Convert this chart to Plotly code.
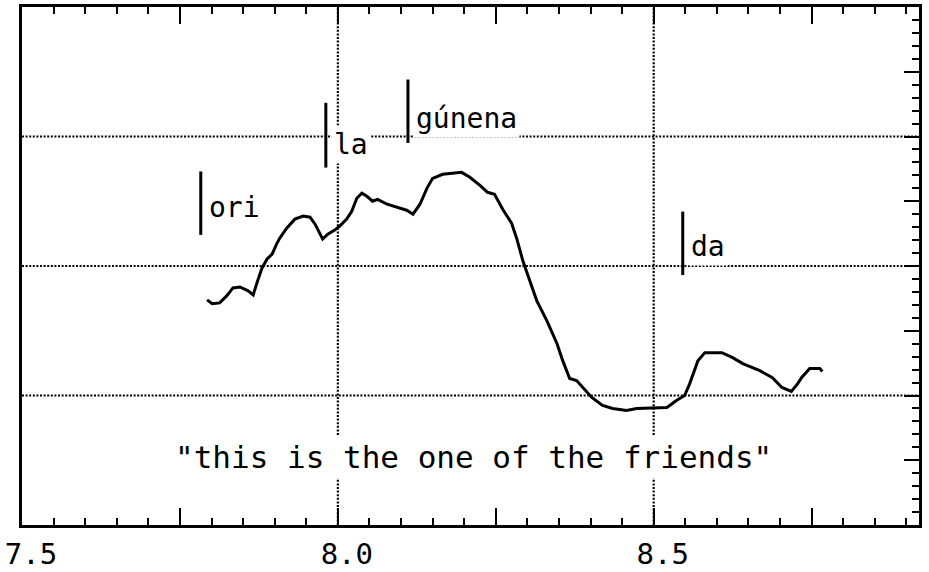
import plotly.graph_objects as go

# Pitch contour of the utterance (time in s, pitch in grid units)
time = [7.793, 7.801, 7.813, 7.824, 7.834, 7.845, 7.858, 7.866, 7.873, 7.880,
        7.888, 7.896, 7.903, 7.908, 7.919, 7.932, 7.945, 7.956, 7.964, 7.972,
        7.976, 7.984, 7.995, 8.003, 8.014, 8.022, 8.030, 8.038, 8.046, 8.055,
        8.063, 8.078, 8.093, 8.109, 8.119, 8.130, 8.141, 8.150, 8.166, 8.177,
        8.196, 8.209, 8.225, 8.237, 8.248, 8.261, 8.275, 8.283, 8.293, 8.304,
        8.315, 8.331, 8.347, 8.356, 8.367, 8.378, 8.388, 8.402, 8.419, 8.435,
        8.457, 8.473, 8.521, 8.536, 8.549, 8.557, 8.570, 8.581, 8.608, 8.625,
        8.641, 8.668, 8.688, 8.703, 8.718, 8.728, 8.734, 8.747, 8.763, 8.767]
pitch = [1.738, 1.708, 1.715, 1.769, 1.831, 1.838, 1.808, 1.777, 1.885, 1.985,
         2.054, 2.092, 2.169, 2.215, 2.292, 2.362, 2.385, 2.377, 2.323, 2.246,
         2.208, 2.246, 2.277, 2.308, 2.362, 2.423, 2.523, 2.562, 2.538, 2.500,
         2.515, 2.477, 2.454, 2.431, 2.400, 2.477, 2.600, 2.677, 2.708, 2.715,
         2.723, 2.685, 2.623, 2.569, 2.554, 2.438, 2.331, 2.215, 2.038, 1.885,
         1.731, 1.577, 1.400, 1.269, 1.131, 1.115, 1.062, 0.985, 0.923, 0.900,
         0.885, 0.900, 0.908, 0.962, 1.000, 1.092, 1.269, 1.331, 1.331, 1.292,
         1.246, 1.192, 1.138, 1.062, 1.031, 1.092, 1.138, 1.208, 1.208, 1.185]

# Syllable onsets and their labels
segment_onsets = [7.783, 7.981, 8.111, 8.546]
segment_labels = ["ori", "la", "gúnena", "da"]

caption = "\"this is the one of the friends\""

# Axis ticks
x_tick_aliases = {"7.75": " ", "8": "8.0", "8.25": " ", "8.75": " "}
x_grid = [8.0, 8.5]
y_grid = [1, 2, 3]

FONT = "DejaVu Sans Mono"

fig = go.Figure()
fig.add_trace(go.Scatter(
    x=time, y=pitch, mode="lines",
    line=dict(color="black", width=3),
    hoverinfo="skip", showlegend=False,
))

# dotted reference grid
for gx in x_grid:
    fig.add_shape(type="line", xref="x", yref="paper", x0=gx, x1=gx, y0=0, y1=1,
                  line=dict(color="black", width=2.2, dash="2px,1.6px"), layer="below")
for gy in y_grid:
    fig.add_shape(type="line", xref="paper", yref="y", x0=0, x1=1, y0=gy, y1=gy,
                  line=dict(color="black", width=2.2, dash="2px,1.6px"), layer="below")

# segment markers: vertical bar spans and label heights
bar_spans = [(2.24, 2.73), (2.76, 3.26), (2.95, 3.44), (1.93, 2.42)]
label_y = [2.45, 2.94, 3.14, 2.15]
for onset, label, (b0, b1), ly in zip(segment_onsets, segment_labels, bar_spans, label_y):
    fig.add_shape(type="line", xref="x", yref="y", x0=onset, x1=onset, y0=b0, y1=b1,
                  line=dict(color="black", width=3))
    fig.add_annotation(x=onset, y=ly, xref="x", yref="y", text=label,
                       showarrow=False, xanchor="left", yanchor="middle", xshift=5,
                       bgcolor="white", borderpad=2,
                       font=dict(family=FONT, size=28, color="black"))

fig.add_annotation(x=8.215, y=0.525, xref="x", yref="y", text=caption,
                   showarrow=False, xanchor="center", yanchor="middle",
                   bgcolor="white", borderpad=3,
                   font=dict(family=FONT, size=31, color="black"))

fig.update_xaxes(
    range=[7.5, 8.92], tickmode="linear", tick0=7.5, dtick=0.25,
    labelalias=x_tick_aliases, automargin=False,
    ticks="inside", ticklen=17, tickwidth=2, tickcolor="black",
    minor=dict(tick0=7.5, dtick=0.05, ticks="inside", ticklen=7, tickwidth=2,
               tickcolor="black", showgrid=False),
    showline=True, linewidth=3, linecolor="black", mirror="ticks",
    showgrid=False, zeroline=False, ticklabelshift=9, ticklabelstandoff=1,
    tickfont=dict(family=FONT, size=29, color="black"),
)
fig.update_yaxes(
    range=[0, 4], side="right", tickmode="linear", tick0=0, dtick=0.5,
    ticks="inside", ticklen=15, tickwidth=2, tickcolor="black",
    minor=dict(tick0=0, dtick=0.1, ticks="inside", ticklen=7, tickwidth=2,
               tickcolor="black", showgrid=False),
    showticklabels=False, showline=True, linewidth=3, linecolor="black",
    mirror=True, showgrid=False, zeroline=False, automargin=False,
)
fig.update_layout(
    width=929, height=572,
    margin=dict(l=22, r=10, t=7, b=47),
    paper_bgcolor="white", plot_bgcolor="white",
    showlegend=False,
)

fig.write_html("out.html")
